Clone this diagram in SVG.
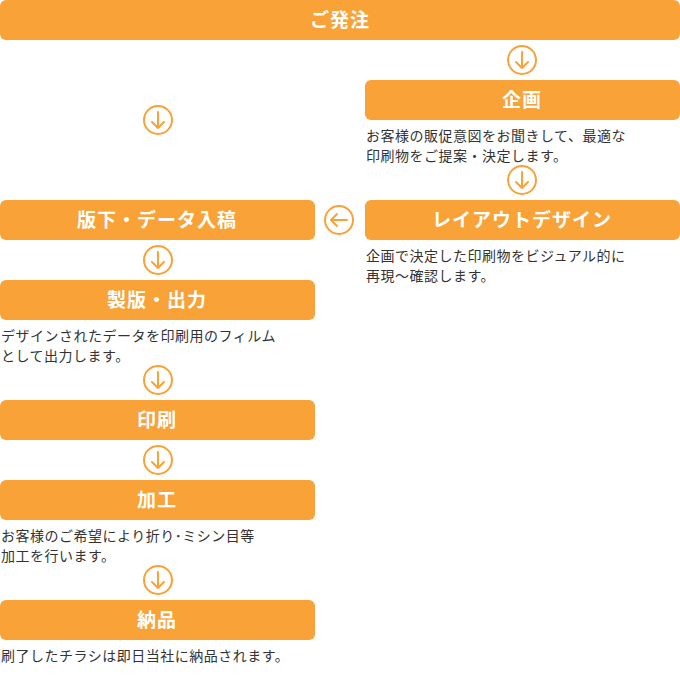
<svg xmlns="http://www.w3.org/2000/svg" width="680" height="680" viewBox="0 0 680 680">
<style>
.b{fill:#f8a237}
.t{fill:#fff;font-family:"Noto Sans CJK JP",sans-serif;font-size:19px;font-weight:bold;text-anchor:middle;letter-spacing:1px}
.d{fill:#333;font-family:"Noto Sans CJK JP",sans-serif;font-size:14px;letter-spacing:0.5px}
.c{fill:#fff;stroke:#f8a237;stroke-width:2}
.a{fill:none;stroke:#f8a237;stroke-width:2;stroke-linecap:round;stroke-linejoin:round}
</style>
<defs>
<g id="dn"><circle class="c" r="14"/><path class="a" d="M0,-8V8M-6,2L0,8L6,2"/></g>
</defs>
<rect width="680" height="680" fill="#fff"/>
<g id="n0"><rect class="b" x="0" y="0" width="680" height="40" rx="6"/><text class="t" x="340" y="27">ご発注</text></g>
<g id="n1"><rect class="b" x="365" y="80" width="315" height="40" rx="6"/><text class="t" x="522" y="107">企画</text>
<text class="d" x="366" y="141">お客様の販促意図をお聞きして、最適な</text><text class="d" x="366" y="161">印刷物をご提案・決定します。</text></g>
<g id="n2"><rect class="b" x="365" y="200" width="315" height="40" rx="6"/><text class="t" x="522" y="227">レイアウトデザイン</text>
<text class="d" x="366" y="261">企画で決定した印刷物をビジュアル的に</text><text class="d" x="366" y="281">再現～確認します。</text></g>
<g id="n3"><rect class="b" x="0" y="200" width="315" height="40" rx="6"/><text class="t" x="157" y="227">版下・データ入稿</text></g>
<g id="n4"><rect class="b" x="0" y="280" width="315" height="40" rx="6"/><text class="t" x="157" y="307">製版・出力</text>
<text class="d" x="1" y="341">デザインされたデータを印刷用のフィルム</text><text class="d" x="1" y="361">として出力します。</text></g>
<g id="n5"><rect class="b" x="0" y="400" width="315" height="40" rx="6"/><text class="t" x="157" y="427">印刷</text></g>
<g id="n6"><rect class="b" x="0" y="480" width="315" height="40" rx="6"/><text class="t" x="157" y="507">加工</text>
<text class="d" x="1" y="541">お客様のご希望により折り･ミシン目等</text><text class="d" x="1" y="561">加工を行います。</text></g>
<g id="n7"><rect class="b" x="0" y="600" width="315" height="40" rx="6"/><text class="t" x="157" y="627">納品</text>
<text class="d" x="1" y="661">刷了したチラシは即日当社に納品されます。</text></g>
<g id="connectors">
<use href="#dn" x="522" y="60"/>
<use href="#dn" x="158" y="120"/>
<use href="#dn" x="522" y="180"/>
<use href="#dn" x="158" y="260"/>
<use href="#dn" x="158" y="380"/>
<use href="#dn" x="158" y="460"/>
<use href="#dn" x="158" y="580"/>
<g transform="translate(339,220) rotate(90)"><circle class="c" r="14"/><path class="a" d="M0,-8V8M-6,2L0,8L6,2"/></g>
</g>
</svg>
